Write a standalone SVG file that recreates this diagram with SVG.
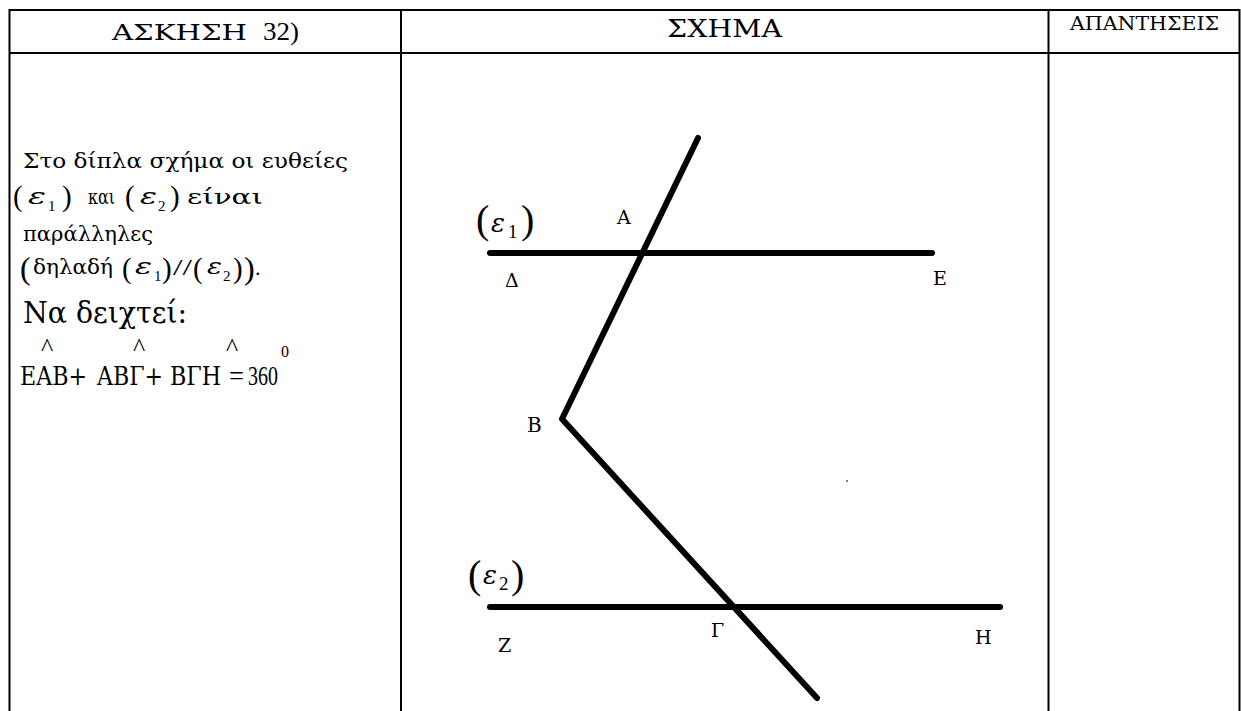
<svg xmlns="http://www.w3.org/2000/svg" width="1241" height="711" viewBox="0 0 1241 711">
<style>
.t{font-family:"Liberation Serif","DejaVu Serif","Times New Roman",serif;fill:#000}
.g{font-family:"DejaVu Serif","Liberation Serif","Times New Roman",serif;fill:#000}
.i{font-style:italic}
.tb{stroke:#000;stroke-width:2;fill:none}
.ln{stroke:#000;stroke-width:6;stroke-linecap:round;stroke-linejoin:round;fill:none}
</style>
<rect width="1241" height="711" fill="#fff"/>
<g id="table">
<line class="tb" x1="9" y1="10" x2="1240" y2="10"/>
<line class="tb" x1="9" y1="53" x2="1240" y2="53"/>
<line class="tb" x1="9.5" y1="9" x2="9.5" y2="711"/>
<line class="tb" x1="401" y1="9" x2="401" y2="711"/>
<line class="tb" x1="1048.5" y1="9" x2="1048.5" y2="711"/>
<line class="tb" x1="1239.5" y1="9" x2="1239.5" y2="711"/>
</g>
<g id="headers">
<text class="g" x="112" y="40" font-size="23" textLength="135" lengthAdjust="spacingAndGlyphs">ΑΣΚΗΣΗ</text>
<text class="t" x="263" y="40" font-size="25" textLength="36" lengthAdjust="spacingAndGlyphs">32)</text>
<text class="g" x="667" y="37" font-size="24" textLength="115" lengthAdjust="spacingAndGlyphs">ΣΧΗΜΑ</text>
<text class="g" x="1070" y="30" font-size="19" textLength="149" lengthAdjust="spacingAndGlyphs">ΑΠΑΝΤΗΣΕΙΣ</text>
</g>
<g id="statement">
<text class="g" x="23" y="168" font-size="20" textLength="325" lengthAdjust="spacingAndGlyphs">Στο δίπλα σχήμα οι ευθείες</text>
<text class="t" x="13" y="206" font-size="29">(</text>
<text class="g i" x="28" y="204" font-size="22" textLength="18" lengthAdjust="spacingAndGlyphs">ε</text>
<text class="t" x="48" y="211" font-size="15">1</text>
<text class="t" x="62" y="206" font-size="29">)</text>
<text class="g" x="88" y="204" font-size="20" textLength="27" lengthAdjust="spacingAndGlyphs">και</text>
<text class="t" x="125" y="206" font-size="29">(</text>
<text class="g i" x="140" y="204" font-size="22" textLength="17" lengthAdjust="spacingAndGlyphs">ε</text>
<text class="t" x="158" y="211" font-size="15">2</text>
<text class="t" x="170" y="206" font-size="29">)</text>
<text class="g" x="187" y="204" font-size="20" textLength="76" lengthAdjust="spacingAndGlyphs">είναι</text>
<text class="g" x="23" y="241" font-size="20" textLength="130" lengthAdjust="spacingAndGlyphs">παράλληλες</text>
<text class="t" x="20" y="279" font-size="32">(</text>
<text class="g" x="33" y="274" font-size="20" textLength="80" lengthAdjust="spacingAndGlyphs">δηλαδή</text>
<text class="t" x="122" y="278" font-size="29">(</text>
<text class="g i" x="135" y="274" font-size="22" textLength="17" lengthAdjust="spacingAndGlyphs">ε</text>
<text class="t" x="154" y="281" font-size="15">1</text>
<text class="t" x="162" y="278" font-size="29">)</text>
<text class="t" x="173" y="275" font-size="24" textLength="19" lengthAdjust="spacingAndGlyphs">//</text>
<text class="t" x="193" y="278" font-size="29">(</text>
<text class="g i" x="207" y="274" font-size="22" textLength="15" lengthAdjust="spacingAndGlyphs">ε</text>
<text class="t" x="223" y="281" font-size="15">2</text>
<text class="t" x="233" y="278" font-size="29">)</text>
<text class="t" x="244" y="279" font-size="32">)</text>
<text class="t" x="255" y="275" font-size="22">.</text>
<text class="g" x="23" y="323" font-size="29" textLength="164" lengthAdjust="spacingAndGlyphs">Να δειχτεί:</text>
<text class="g" x="20" y="385" font-size="26" textLength="67" lengthAdjust="spacingAndGlyphs">ΕΑΒ+</text>
<text class="g" x="97" y="385" font-size="26" textLength="66" lengthAdjust="spacingAndGlyphs">ΑΒΓ+</text>
<text class="g" x="170" y="385" font-size="26" textLength="51" lengthAdjust="spacingAndGlyphs">ΒΓΗ</text>
<text class="t" x="229" y="385" font-size="27" textLength="15" lengthAdjust="spacingAndGlyphs">=</text>
<text class="t" x="248" y="385" font-size="28" textLength="30" lengthAdjust="spacingAndGlyphs">360</text>
<text class="t" x="281" y="357" font-size="16">0</text>
<text class="t" x="47" y="356" font-size="26" text-anchor="middle">^</text>
<text class="t" x="139" y="356" font-size="26" text-anchor="middle">^</text>
<text class="t" x="232" y="356" font-size="26" text-anchor="middle">^</text>
</g>
<g id="connectors">
<line class="ln" x1="490" y1="253" x2="932" y2="253"/>
<line class="ln" x1="490" y1="607" x2="1000" y2="607"/>
<polyline class="ln" points="698,138 562,419 817,698"/>
</g>
<g id="label-e1">
<text class="t" x="476" y="233" font-size="40">(</text>
<text class="g i" x="491" y="232" font-size="26">ε</text>
<text class="t" x="508" y="238" font-size="19">1</text>
<text class="t" x="521" y="233" font-size="40">)</text>
</g>
<g id="label-e2">
<text class="t" x="468" y="588" font-size="40">(</text>
<text class="g i" x="483" y="584" font-size="26">ε</text>
<text class="t" x="499" y="590" font-size="19">2</text>
<text class="t" x="511" y="588" font-size="40">)</text>
</g>
<g id="points">
<text class="g" x="617" y="224" font-size="19">Α</text>
<text class="g" x="505" y="287" font-size="19">Δ</text>
<text class="g" x="933" y="285" font-size="19">Ε</text>
<text class="g" x="527" y="432" font-size="20">Β</text>
<text class="g" x="498" y="652" font-size="19">Ζ</text>
<text class="g" x="711" y="637" font-size="19">Γ</text>
<text class="g" x="975" y="644" font-size="19">Η</text>
<circle cx="847" cy="481" r="1" fill="#555"/>
</g>
</svg>
